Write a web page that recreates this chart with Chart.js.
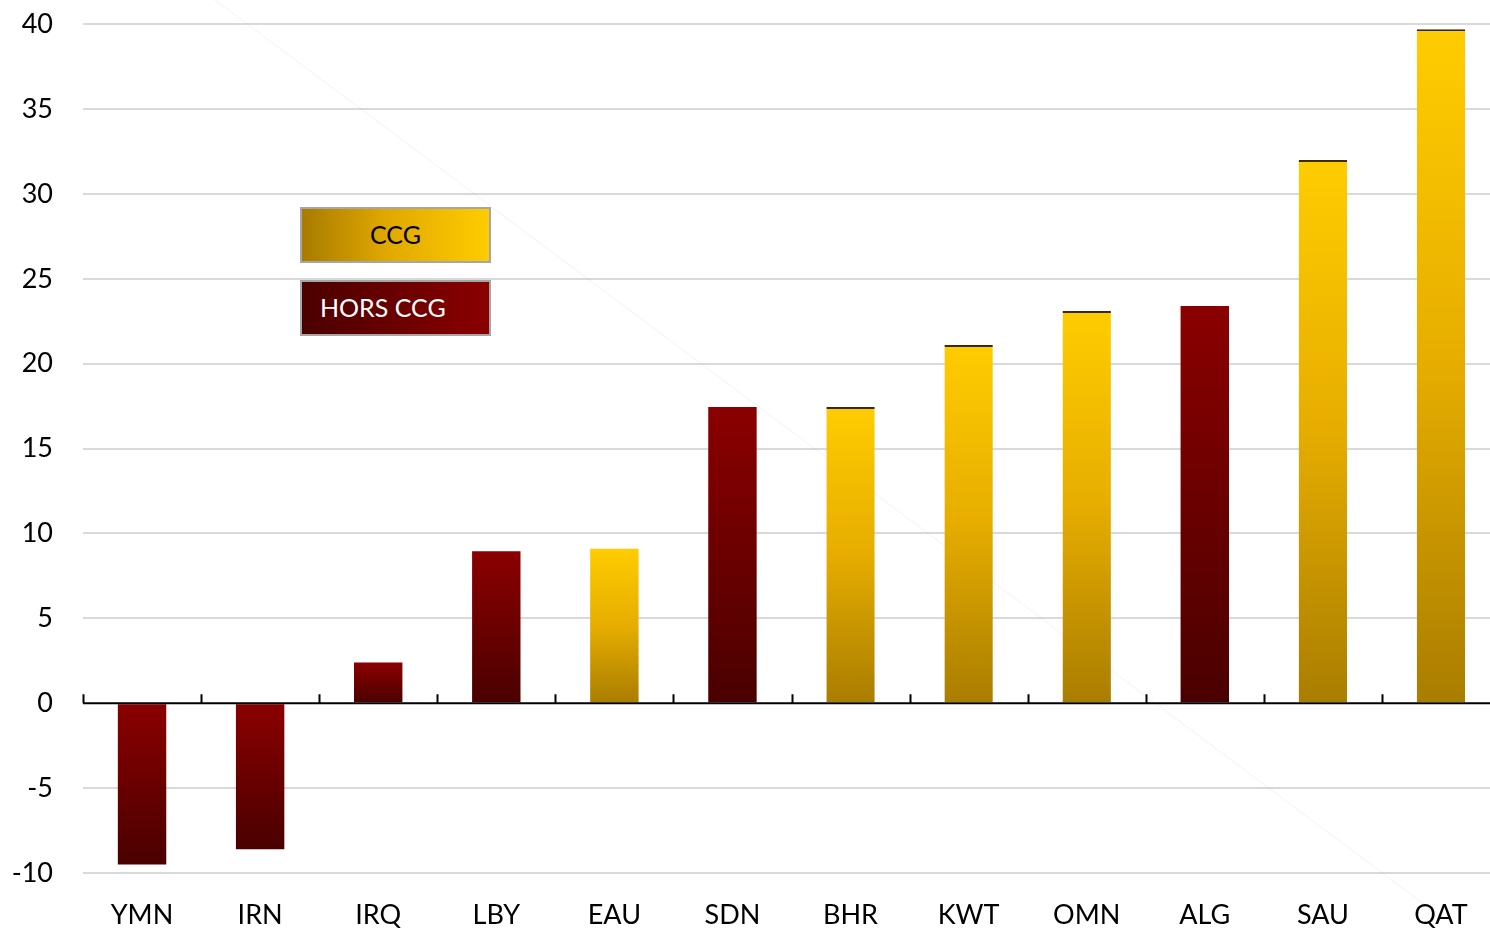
<!DOCTYPE html>
<html>
<head>
<meta charset="utf-8">
<script src="https://cdn.jsdelivr.net/npm/chart.js@4.4.1/dist/chart.umd.min.js"></script>
<style>
  html, body { margin: 0; padding: 0; background: #ffffff; }
  #wrap { position: relative; width: 1490px; height: 930px; overflow: hidden; }
  canvas { position: absolute; left: 0; top: -22px; }
  .leg { position: absolute; box-sizing: border-box; border: 2px solid #a6a6a6;
         font-family: Lato, "Liberation Sans", sans-serif; font-size: 25px; line-height: 51px; }
  #legCCG { left: 300px; top: 207px; width: 191px; height: 56px; color: #000;
            text-align: center; background: linear-gradient(to right, #a87b00, #e0a800 45%, #ffcc00); }
  #legHors { left: 300px; top: 280px; width: 191px; height: 56px; color: #fff;
             padding-left: 18px; background: linear-gradient(to right, #4a0000, #8b0000); }
</style>
</head>
<body>
<div id="wrap">
  <canvas id="c" width="1500" height="952"></canvas>
  <div class="leg" id="legCCG">CCG</div>
  <div class="leg" id="legHors">HORS CCG</div>
</div>
<script>
const categories = ["YMN", "IRN", "IRQ", "LBY", "EAU", "SDN", "BHR", "KWT", "OMN", "ALG", "SAU", "QAT"];
const values     = [-9.5, -8.6, 2.4, 8.95, 9.1, 17.45, 17.45, 21.1, 23.1, 23.4, 32.0, 39.7];
const groups     = ["HORS CCG", "HORS CCG", "HORS CCG", "HORS CCG", "CCG", "HORS CCG", "CCG", "CCG", "CCG", "HORS CCG", "CCG", "CCG"];
const yTicks     = [-10, -5, 0, 5, 10, 15, 20, 25, 30, 35, 40];

const FONT = 'Lato, "Liberation Sans", sans-serif';

function barFill(ctx) {
  const chart = ctx.chart;
  const i = ctx.dataIndex;
  const g = groups[i];
  const solid = g === 'CCG' ? '#f0b800' : '#7a0000';
  const ys = chart.scales && chart.scales.y;
  if (!ys || ctx.type !== 'data' || i === undefined) return solid;
  const v = values[i];
  const top = ys.getPixelForValue(Math.max(v, 0));
  const bot = ys.getPixelForValue(Math.min(v, 0));
  if (!isFinite(top) || !isFinite(bot) || top === bot) return solid;
  const grad = chart.ctx.createLinearGradient(0, top, 0, bot);
  if (g === 'CCG') {
    grad.addColorStop(0, '#ffcc00');
    grad.addColorStop(0.5, '#e6ad00');
    grad.addColorStop(1, '#a97d00');
  } else {
    grad.addColorStop(0, '#8b0000');
    grad.addColorStop(1, '#4a0000');
  }
  return grad;
}

const zeroAxis = {
  id: 'zeroAxis',
  beforeDatasetsDraw(chart) {
    const c = chart.ctx;
    c.save();
    c.strokeStyle = 'rgba(0,0,0,0.05)';
    c.lineWidth = 1;
    c.beginPath();
    c.moveTo(215, 22);
    c.lineTo(1425, 927);
    c.stroke();
    c.restore();
  },
  afterDatasetsDraw(chart) {
    const c = chart.ctx, a = chart.chartArea;
    const y0 = chart.scales.y.getPixelForValue(0);
    const n = categories.length;
    const w = (a.right - a.left) / n;
    c.save();
    c.strokeStyle = '#000';
    c.lineWidth = 2;
    c.beginPath();
    c.moveTo(a.left, y0);
    c.lineTo(a.right, y0);
    for (let k = 0; k < n; k++) {
      const x = Math.round(a.left + k * w) + 0.5;
      c.moveTo(x, y0);
      c.lineTo(x, y0 - 9);
    }
    c.stroke();
    c.restore();
  }
};

new Chart(document.getElementById('c'), {
  type: 'bar',
  data: {
    labels: categories,
    datasets: [{
      data: values,
      backgroundColor: barFill,
      borderColor: '#3d2a00',
      borderWidth: (ctx) => groups[ctx.dataIndex] === 'CCG' && ctx.dataIndex !== 4 ? { top: 2, left: 0, right: 0, bottom: 0 } : 0,
      borderSkipped: 'start',
      barPercentage: 0.41,
      categoryPercentage: 1.0
    }]
  },
  options: {
    responsive: false,
    animation: false,
    events: [],
    layout: { padding: { top: 2, right: 0, left: 0, bottom: 0 } },
    plugins: { legend: { display: false }, tooltip: { enabled: false } },
    scales: {
      x: {
        grid: { display: false, drawTicks: false },
        border: { display: false },
        ticks: { color: '#000', font: { family: FONT, size: 27 }, padding: 26, maxRotation: 0 },
        afterFit(s) { s.height = 57; }
      },
      y: {
        min: -10, max: 40,
        afterBuildTicks(s) { s.ticks = yTicks.map(v => ({ value: v })); },
        grid: {
          color: (ctx) => ctx.tick && ctx.tick.value === 0 ? 'rgba(0,0,0,0)' : '#d9d9d9',
          lineWidth: 2,
          drawTicks: false
        },
        border: { display: false },
        ticks: { color: '#000', font: { family: FONT, size: 27 }, padding: 30 },
        afterFit(s) { s.width = 83; }
      }
    }
  },
  plugins: [zeroAxis]
});
</script>
</body>
</html>
